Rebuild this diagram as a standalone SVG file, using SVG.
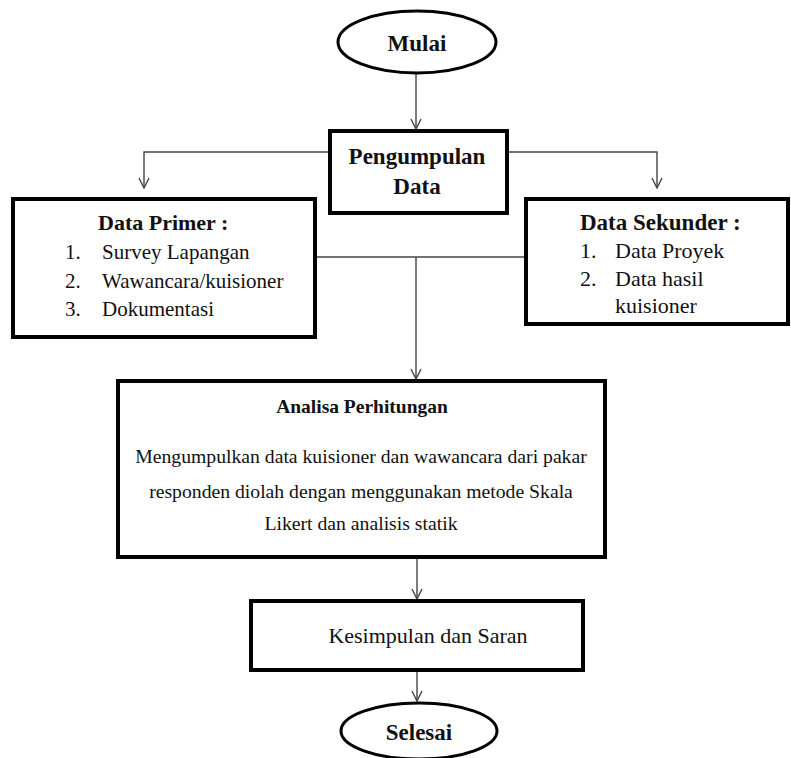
<svg xmlns="http://www.w3.org/2000/svg" width="791" height="758" viewBox="0 0 791 758">
<style>
.box{fill:#fff;stroke:#000;stroke-width:4}
.ell{fill:#fff;stroke:#000;stroke-width:3}
text{fill:#111}
.b{font-weight:bold}
.c{text-anchor:middle}
.con{fill:none;stroke:#444;stroke-width:1.4}
</style>
<defs>
<marker id="arr" viewBox="0 0 12 12" refX="11" refY="6" markerWidth="12" markerHeight="12" markerUnits="userSpaceOnUse" orient="auto">
<path d="M1,1 L11,6 L1,11" fill="none" stroke="#444" stroke-width="1.4"/>
</marker>
</defs>
<rect width="791" height="758" fill="#fff"/>
<g id="connectors">
<line class="con" x1="416" y1="73" x2="416" y2="129" marker-end="url(#arr)"/>
<polyline class="con" points="328,152 144,152 144,188" marker-end="url(#arr)"/>
<polyline class="con" points="508,152 657,152 657,188" marker-end="url(#arr)"/>
<line class="con" x1="315" y1="257" x2="525" y2="257"/>
<line class="con" x1="416" y1="257" x2="416" y2="379" marker-end="url(#arr)"/>
<line class="con" x1="417" y1="558" x2="417" y2="599" marker-end="url(#arr)"/>
<line class="con" x1="417" y1="671" x2="417" y2="701" marker-end="url(#arr)"/>
</g>
<g font-family="Liberation Serif, DejaVu Serif, serif" font-size="21">
<g id="mulai">
<ellipse class="ell" cx="417" cy="42" rx="79" ry="31"/>
<text class="b c" x="417" y="51" font-size="23">Mulai</text>
</g>
<g id="pengumpulan">
<rect class="box" x="330" y="131" width="177" height="82"/>
<text class="b c" x="417" y="164" font-size="23">Pengumpulan</text>
<text class="b c" x="417" y="194" font-size="23">Data</text>
</g>
<g id="primer">
<rect class="box" x="13" y="199" width="302" height="138"/>
<text class="b" x="98" y="230" font-size="22">Data Primer :</text>
<text x="65" y="259">1.</text><text x="102" y="259">Survey Lapangan</text>
<text x="65" y="288">2.</text><text x="102" y="288">Wawancara/kuisioner</text>
<text x="65" y="316">3.</text><text x="102" y="316">Dokumentasi</text>
</g>
<g id="sekunder" font-size="22">
<rect class="box" x="526" y="199" width="262" height="125"/>
<text class="b" x="580" y="230" font-size="23">Data Sekunder :</text>
<text x="580" y="258">1.</text><text x="615" y="258">Data Proyek</text>
<text x="580" y="286">2.</text><text x="615" y="286">Data hasil</text>
<text x="615" y="313">kuisioner</text>
</g>
<g id="analisa">
<rect class="box" x="118" y="381" width="487" height="176"/>
<text class="b c" x="362" y="413" font-size="19.5">Analisa Perhitungan</text>
<text class="c" x="361" y="463" font-size="19.7">Mengumpulkan data kuisioner dan wawancara dari pakar</text>
<text class="c" x="361" y="498" font-size="19.7">responden diolah dengan menggunakan metode Skala</text>
<text class="c" x="361" y="530" font-size="19.7">Likert dan analisis statik</text>
</g>
<g id="kesimpulan">
<rect class="box" x="251" y="601" width="332" height="69"/>
<text class="c" x="428" y="643" font-size="22">Kesimpulan dan Saran</text>
</g>
<g id="selesai">
<ellipse class="ell" cx="419" cy="731" rx="78" ry="28"/>
<text class="b c" x="419" y="740" font-size="23">Selesai</text>
</g>
</g>
</svg>
